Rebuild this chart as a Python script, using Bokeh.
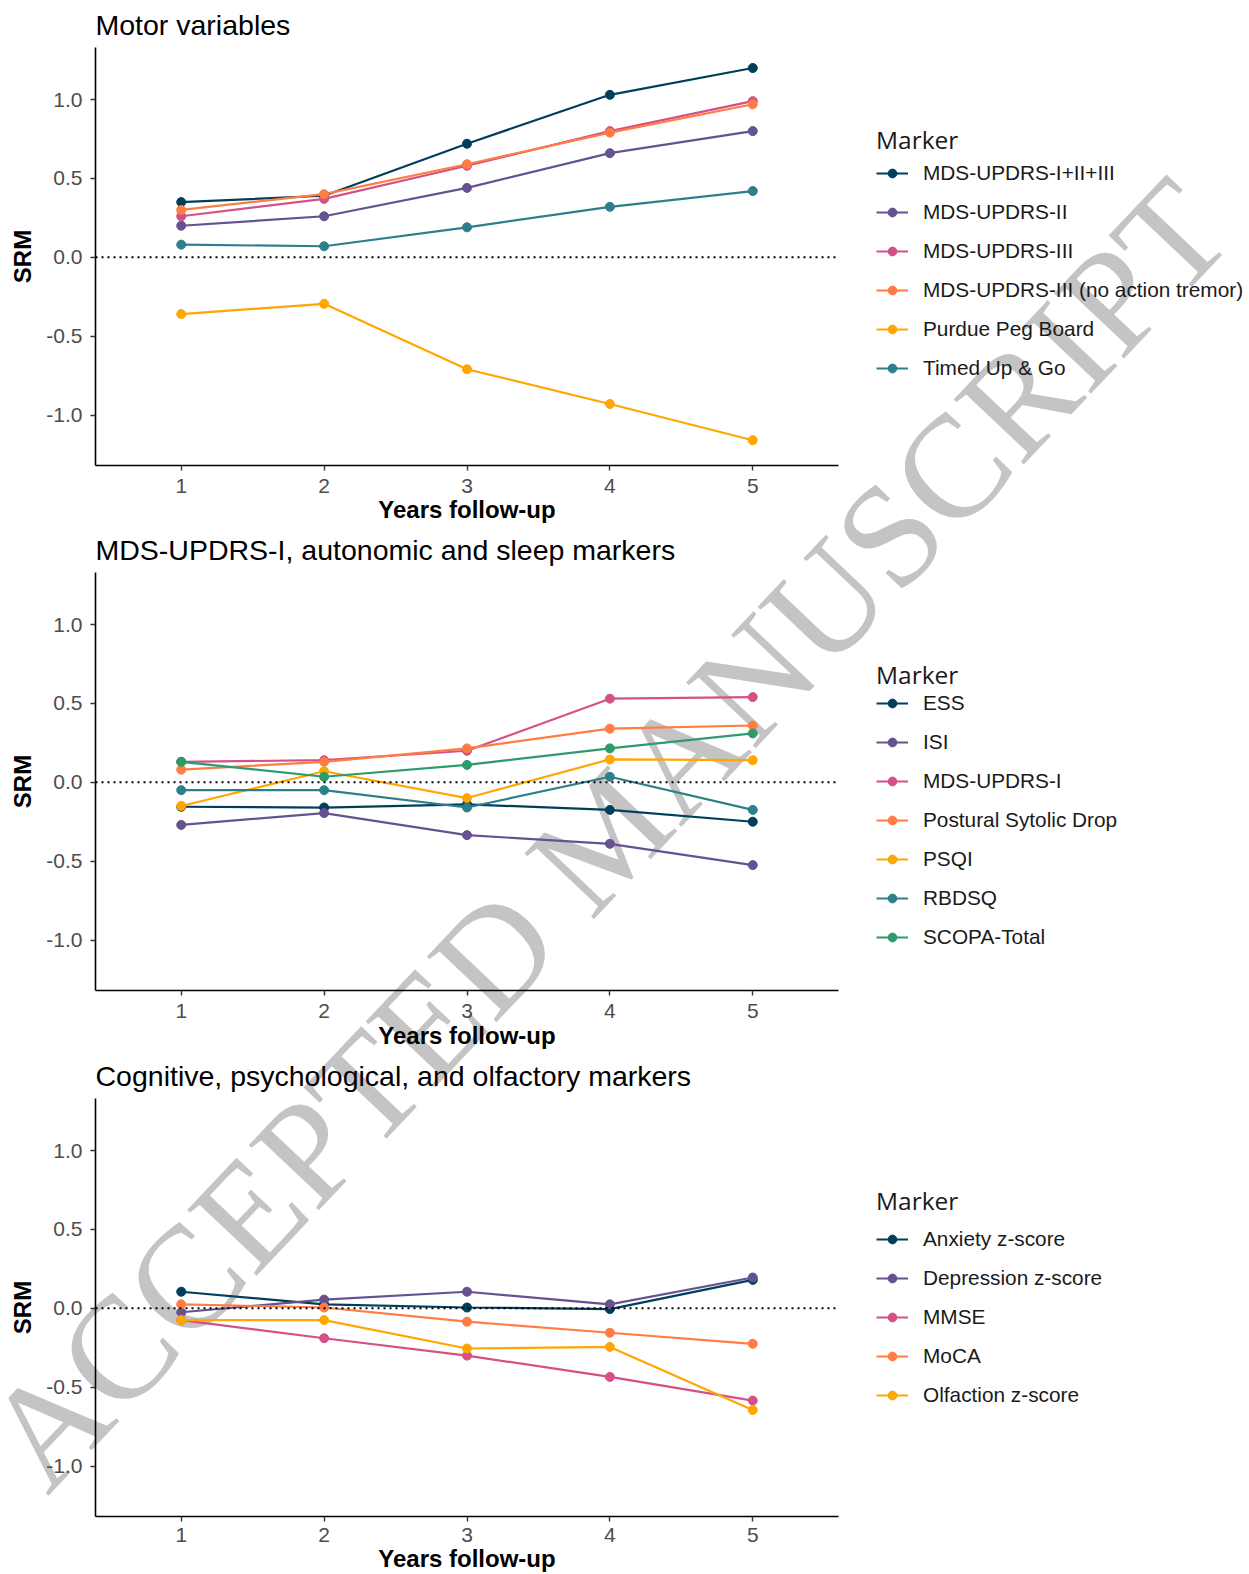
import math
from bokeh.plotting import figure
from bokeh.models import (Legend, LegendItem, Span, FixedTicker, Range1d,
                          NumeralTickFormatter, Div)
from bokeh.layouts import column
from bokeh.embed import file_html
from bokeh.resources import INLINE

# ---------------- data ----------------
years = [1, 2, 3, 4, 5]

motor_names = ["MDS-UPDRS-I+II+III", "MDS-UPDRS-II", "MDS-UPDRS-III",
               "MDS-UPDRS-III (no action tremor)", "Purdue Peg Board", "Timed Up & Go"]
motor_total = [0.35, 0.39, 0.72, 1.03, 1.20]
motor_ii = [0.20, 0.26, 0.44, 0.66, 0.80]
motor_iii = [0.26, 0.37, 0.58, 0.80, 0.99]
motor_iii_nat = [0.30, 0.40, 0.59, 0.79, 0.97]
motor_purdue = [-0.36, -0.295, -0.71, -0.93, -1.16]
motor_tug = [0.08, 0.07, 0.19, 0.32, 0.42]

auto_names = ["ESS", "ISI", "MDS-UPDRS-I", "Postural Sytolic Drop", "PSQI", "RBDSQ", "SCOPA-Total"]
auto_ess = [-0.155, -0.16, -0.14, -0.175, -0.25]
auto_isi = [-0.27, -0.195, -0.335, -0.39, -0.525]
auto_updrs_i = [0.13, 0.14, 0.20, 0.53, 0.54]
auto_psd = [0.08, 0.13, 0.215, 0.34, 0.36]
auto_psqi = [-0.15, 0.07, -0.10, 0.145, 0.14]
auto_rbdsq = [-0.05, -0.05, -0.16, 0.035, -0.175]
auto_scopa = [0.13, 0.035, 0.11, 0.215, 0.31]

cog_names = ["Anxiety z-score", "Depression z-score", "MMSE", "MoCA", "Olfaction z-score"]
cog_anxiety = [0.105, 0.025, 0.005, -0.005, 0.18]
cog_depression = [-0.025, 0.055, 0.105, 0.025, 0.195]
cog_mmse = [-0.075, -0.19, -0.30, -0.435, -0.585]
cog_moca = [0.025, 0.005, -0.085, -0.155, -0.225]
cog_olfaction = [-0.075, -0.075, -0.255, -0.245, -0.645]

y_ticks = [-1.0, -0.5, 0.0, 0.5, 1.0]

titles = ["Motor variables",
          "MDS-UPDRS-I, autonomic and sleep markers",
          "Cognitive, psychological, and olfactory markers"]

NAVY, PURPLE, PINK, ORANGE, YELLOW, TEAL, GREEN = (
    "#003f5c", "#665191", "#d45087", "#ff7c43", "#ffa600", "#2d7f8b", "#2b9c6a")

panels = [
    (titles[0], motor_names, [NAVY, PURPLE, PINK, ORANGE, YELLOW, TEAL],
     [motor_total, motor_ii, motor_iii, motor_iii_nat, motor_purdue, motor_tug]),
    (titles[1], auto_names, [NAVY, PURPLE, PINK, ORANGE, YELLOW, TEAL, GREEN],
     [auto_ess, auto_isi, auto_updrs_i, auto_psd, auto_psqi, auto_rbdsq, auto_scopa]),
    (titles[2], cog_names, [NAVY, PURPLE, PINK, ORANGE, YELLOW],
     [cog_anxiety, cog_depression, cog_mmse, cog_moca, cog_olfaction]),
]

# ---------------- layout constants ----------------
FRAME_W, FRAME_H = 743, 418
BORDER_L, BORDER_R = 95, 411
BORDER_T = [47, 47, 47]
BORDER_B = [58, 58, 55]
X_LABEL_STANDOFF = [8, 8, 6]
X_AXIS_LABEL_STANDOFF = [0, 1, 0]
X0, X1 = 0.4, 5.6
Y0, Y1 = -1.32, 1.33
LEG_Y = [85, 41, 109]
LEG_STANDOFF = [5, 0, 10]

SANS = "Liberation Sans"

# watermark, drawn behind the (transparent) figures
watermark = Div(
    text=('<div style="position:absolute; left:602px; top:829px; '
          'transform:translate(-50%,-50%) rotate(-46.6deg); '
          "font-family:'Liberation Serif', serif; font-size:146px; line-height:1; "
          'color:#c4c4c4; white-space:nowrap; pointer-events:none;">'
          'ACCEPTED MANUSCRIPT</div>'),
    width=0, height=0,
    styles={"position": "absolute", "left": "0px", "top": "0px", "overflow": "visible"})

figs = []
for i, (title, names, colors, series) in enumerate(panels):
    p = figure(frame_width=FRAME_W, frame_height=FRAME_H,
               x_range=Range1d(X0, X1), y_range=Range1d(Y0, Y1),
               output_backend="svg", toolbar_location=None,
               min_border_left=BORDER_L, min_border_right=BORDER_R,
               min_border_top=BORDER_T[i], min_border_bottom=BORDER_B[i])
    p.title.text = title
    p.title.text_font = SANS
    p.title.text_font_size = "28.5px"
    p.title.text_font_style = "normal"
    p.title.text_color = "#000000"
    p.title.align = "left"
    p.title.standoff = 13

    p.grid.visible = False
    p.outline_line_color = None
    p.background_fill_color = None
    p.border_fill_color = None

    for ax in (p.xaxis[0], p.yaxis[0]):
        ax.axis_line_color = "#000000"
        ax.axis_line_width = 1.6
        ax.major_tick_line_color = "#333333"
        ax.major_tick_line_width = 1.4
        ax.major_tick_out = 5
        ax.major_tick_in = 0
        ax.minor_tick_line_color = None
        ax.major_label_text_color = "#4d4d4d"
        ax.major_label_text_font = SANS
        ax.major_label_text_font_size = "21px"
        ax.axis_label_text_font = SANS
        ax.axis_label_text_font_style = "bold"
        ax.axis_label_text_color = "#000000"
        ax.axis_label_text_font_size = "24px"

    p.xaxis.ticker = FixedTicker(ticks=years)
    p.xaxis.formatter = NumeralTickFormatter(format="0")
    p.xaxis.axis_label = "Years follow-up"
    p.xaxis.major_label_standoff = X_LABEL_STANDOFF[i]
    p.xaxis.axis_label_standoff = X_AXIS_LABEL_STANDOFF[i]

    p.yaxis.ticker = FixedTicker(ticks=y_ticks)
    p.yaxis.formatter = NumeralTickFormatter(format="0.0")
    p.yaxis.axis_label = "SRM"
    p.yaxis.major_label_standoff = 8
    p.yaxis.axis_label_standoff = 7

    p.add_layout(Span(location=0, dimension="width", line_color="#000000",
                      line_width=2, line_dash="2 4"))

    items = []
    for name, col, vals in zip(names, colors, series):
        r1 = p.line(years, vals, line_color=col, line_width=2.2)
        r2 = p.scatter(years, vals, size=9, fill_color=col, line_color=col)
        items.append(LegendItem(label=name, renderers=[r1, r2]))

    leg = Legend(items=items, title="Marker", location=(38, LEG_Y[i]),
                 orientation="vertical")
    leg.margin = 0
    leg.padding = 5
    leg.background_fill_alpha = 0
    leg.border_line_color = None
    leg.title_text_font = "Open Sans"
    leg.title_text_font_size = "24.5px"
    leg.title_text_font_style = "normal"
    leg.title_text_color = "#1a1a1a"
    leg.title_standoff = LEG_STANDOFF[i]
    leg.label_text_font = SANS
    leg.label_text_font_size = "20.8px"
    leg.label_text_color = "#1a1a1a"
    leg.glyph_width = 32
    leg.glyph_height = 22
    leg.label_height = 22
    leg.spacing = 15
    leg.label_standoff = 15
    p.add_layout(leg, "right")

    figs.append(p)

layout = column(watermark, *figs, spacing=0)
open("out.html", "w").write(file_html(layout, INLINE))
